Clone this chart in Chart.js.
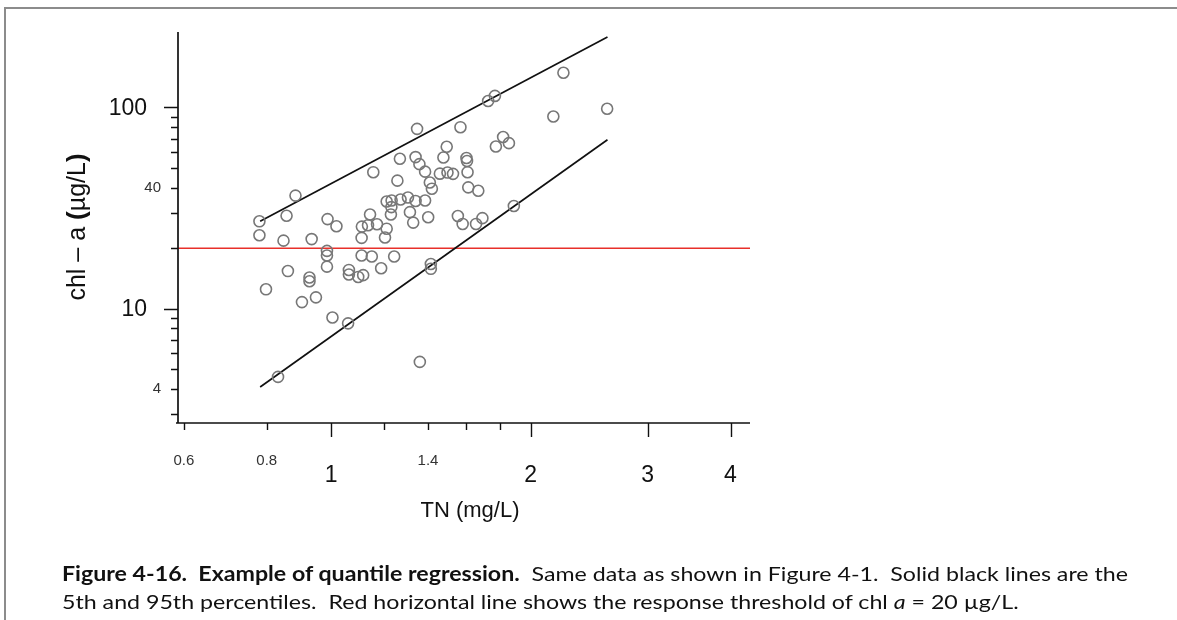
<!DOCTYPE html>
<html lang="en">
<head>
<meta charset="UTF-8">
<title>Quantile regression - chl a vs TN</title>
<script src="https://cdn.jsdelivr.net/npm/chart.js@4.4.0/dist/chart.umd.min.js"></script>
<style>
    html, body { margin: 0; padding: 0; background: #fff; }
    body { width: 1177px; height: 620px; position: relative; overflow: hidden; }
    .frame { position: absolute; left: 4px; top: 7px; width: 1180px; height: 620px;
             border-top: 2px solid #8c8c8c; border-left: 2px solid #8c8c8c; }
    #chart { position: absolute; left: 0; top: 0; }
    .caption { position: absolute; left: 62px; font-family: Lato, "Open Sans", sans-serif;
               font-size: 20px; color: #111; white-space: pre; transform-origin: 0 50%; }
    .caption b { font-weight: bold; }
</style>
</head>
<body>
<div class="frame"></div>
<canvas id="chart" width="1177" height="620"></canvas>
<div class="caption" id="cap1" style="top:561px"><b>Figure 4-16.  Example of quantile regression.</b>  Same data as shown in Figure 4-1.  Solid black lines are the</div>
<div class="caption" id="cap2" style="top:589px">5th and 95th percentiles.  Red horizontal line shows the response threshold of chl <i>a</i> = 20 µg/L.</div>

<script>
// observations
const tnValues = [0.780, 0.780, 0.857, 0.884, 0.848, 0.935, 0.988, 1.019, 0.986, 0.986,
    0.986, 0.861, 0.798, 0.928, 0.928, 0.904, 0.949, 1.005, 1.061, 1.064,
    1.064, 1.099, 1.118, 1.112, 1.152, 1.112, 1.113, 1.137, 1.173, 1.145,
    1.206, 1.213, 1.190, 1.245, 1.213, 1.234, 1.273, 1.306, 1.341, 1.386,
    1.231, 1.233, 1.315, 1.330, 1.401, 1.414, 1.414, 1.361, 0.832, 1.348,
    1.270, 1.341, 1.359, 1.386, 1.158, 1.259, 1.409, 1.419, 1.459, 1.498,
    1.527, 1.477, 1.494, 1.567, 1.600, 1.603, 1.606, 1.610, 1.667, 1.553,
    1.579, 1.654, 1.691, 1.886, 1.725, 1.766, 1.772, 1.817, 1.854, 2.163,
    2.240, 2.607];
const chlValues = [27.2, 23.2, 29.0, 36.5, 21.8, 22.2, 27.9, 25.7, 19.4, 18.4,
    16.2, 15.4, 12.5, 14.3, 13.7, 10.8, 11.4, 9.05, 8.47, 15.6,
    14.8, 14.4, 14.7, 18.4, 18.2, 22.5, 25.6, 26.0, 26.3, 29.4,
    22.6, 25.0, 15.9, 18.2, 34.1, 34.5, 34.9, 35.7, 34.3, 34.5,
    29.4, 32.0, 30.2, 26.8, 28.5, 16.7, 15.8, 5.45, 4.59, 78.3,
    55.6, 56.7, 52.3, 48.0, 47.7, 43.3, 42.4, 39.5, 46.9, 47.5,
    46.8, 56.4, 63.8, 79.8, 56.1, 54.2, 47.7, 40.1, 38.6, 28.9,
    26.4, 26.4, 28.2, 32.4, 107.7, 114.1, 64.0, 71.3, 66.5, 90.2,
    148.8, 98.5];

// 95th and 5th percentile lines (end points)
const q95X = [0.782, 2.610];
const q95Y = [27.2, 223.8];
const q05X = [0.782, 2.610];
const q05Y = [4.09, 69.1];

// response threshold
const thresholdX = [0.5, 5];
const threshold = 20;

// axes
const xRange = [0.588, 4.28];
const yRange = [2.71, 237];
const xTickValues = [0.6, 0.8, 1, 1.2, 1.4, 1.6, 1.8, 2, 3, 4];
const xMajorTicks = [1, 2, 3, 4];
const xSmallLabels = ['0.6', '0.8', '1.4'];
const xLargeLabels = ['1', '2', '3', '4'];
const yTickValues = [3, 4, 5, 6, 7, 8, 9, 10, 20, 30, 40, 50, 60, 70, 80, 90, 100];
const yMajorTicks = [10, 100];
const ySmallLabels = ['4', '40'];
const yLargeLabels = ['10', '100'];

const FONT = '"Liberation Sans", Arial, sans-serif';

const axisPlugin = {
    id: 'axisPlugin',
    afterDraw(chart) {
        const { ctx, chartArea: a } = chart;
        const xs = chart.scales.x, ys = chart.scales.y;
        ctx.save();
        ctx.strokeStyle = '#111';
        ctx.fillStyle = '#111';
        ctx.lineWidth = 1.7;

        // axis lines
        ctx.beginPath();
        ctx.moveTo(a.left, a.top);
        ctx.lineTo(a.left, a.bottom);
        ctx.moveTo(a.left - 2, a.bottom);
        ctx.lineTo(a.right, a.bottom);
        ctx.stroke();

        // x ticks
        ctx.lineWidth = 1.4;
        ctx.beginPath();
        xTickValues.forEach(v => {
            const px = Math.round(xs.getPixelForValue(v)) + 0.5;
            const len = xMajorTicks.includes(v) ? 14 : 7;
            ctx.moveTo(px, a.bottom);
            ctx.lineTo(px, a.bottom + len);
        });
        // y ticks
        yTickValues.forEach(v => {
            const py = Math.round(ys.getPixelForValue(v)) + 0.5;
            const len = yMajorTicks.includes(v) ? 14 : 7;
            ctx.moveTo(a.left, py);
            ctx.lineTo(a.left - len, py);
        });
        ctx.stroke();

        // x labels
        ctx.textAlign = 'center';
        ctx.textBaseline = 'middle';
        ctx.fillStyle = '#333';
        ctx.font = '15px ' + FONT;
        xSmallLabels.forEach(t => ctx.fillText(t, xs.getPixelForValue(parseFloat(t)), a.bottom + 38));
        ctx.fillStyle = '#111';
        ctx.font = '23px ' + FONT;
        xLargeLabels.forEach(t => ctx.fillText(t, xs.getPixelForValue(parseFloat(t)), a.bottom + 53));

        // y labels
        ctx.textAlign = 'right';
        ctx.fillStyle = '#333';
        ctx.font = '15px ' + FONT;
        ySmallLabels.forEach(t => ctx.fillText(t, a.left - 17, ys.getPixelForValue(parseFloat(t))));
        ctx.fillStyle = '#111';
        ctx.font = '23px ' + FONT;
        yLargeLabels.forEach(t => ctx.fillText(t, a.left - 31, ys.getPixelForValue(parseFloat(t)) + 1));

        // x title
        ctx.textAlign = 'center';
        ctx.font = '22px ' + FONT;
        ctx.fillText('TN (mg/L)', (a.left + a.right) / 2 + 6, a.bottom + 88);

        // y title, rotated
        ctx.save();
        ctx.translate(78, 227);
        ctx.rotate(-Math.PI / 2);
        ctx.textAlign = 'left';
        const parts = [['chl – a ', '25px '], ['(', 'bold 26px '], ['µg/L', '25px '], [')', 'bold 26px ']];
        let total = 0;
        parts.forEach(p => { ctx.font = p[1] + FONT; total += ctx.measureText(p[0]).width; });
        let cx = -total / 2;
        parts.forEach(p => {
            ctx.font = p[1] + FONT;
            ctx.fillText(p[0], cx, 0);
            cx += ctx.measureText(p[0]).width;
        });
        ctx.restore();

        ctx.restore();
    }
};

const points = tnValues.map((v, i) => ({ x: v, y: chlValues[i] }));
const pairs = (xa, ya) => xa.map((v, i) => ({ x: v, y: ya[i] }));

new Chart(document.getElementById('chart'), {
    type: 'scatter',
    data: {
        datasets: [
            {
                label: 'observations',
                data: points,
                pointStyle: 'circle',
                pointRadius: 5.5,
                pointBorderWidth: 1.6,
                pointBackgroundColor: 'rgba(0,0,0,0)',
                pointBorderColor: '#777',
                order: 0
            },
            {
                label: '95th percentile',
                data: pairs(q95X, q95Y),
                showLine: true,
                borderColor: '#111',
                borderWidth: 1.7,
                pointRadius: 0,
                order: 1
            },
            {
                label: '5th percentile',
                data: pairs(q05X, q05Y),
                showLine: true,
                borderColor: '#111',
                borderWidth: 1.7,
                pointRadius: 0,
                order: 1
            },
            {
                label: 'threshold',
                data: thresholdX.map(v => ({ x: v, y: threshold })),
                showLine: true,
                borderColor: '#e8302a',
                borderWidth: 1.5,
                pointRadius: 0,
                order: 2
            }
        ]
    },
    options: {
        responsive: false,
        devicePixelRatio: 1,
        animation: false,
        layout: { padding: { left: 178, top: 32, right: 427, bottom: 197 } },
        scales: {
            x: { type: 'logarithmic', min: xRange[0], max: xRange[1], display: false },
            y: { type: 'logarithmic', min: yRange[0], max: yRange[1], display: false }
        },
        plugins: {
            legend: { display: false },
            tooltip: { enabled: false }
        }
    },
    plugins: [axisPlugin]
});

// stretch caption lines to the printed width
const cap1 = document.getElementById('cap1');
const cap2 = document.getElementById('cap2');
const k = 1066 / cap1.getBoundingClientRect().width;
cap1.style.transform = 'scaleX(' + k + ')';
cap2.style.transform = 'scaleX(' + k + ')';
</script>
</body>
</html>
